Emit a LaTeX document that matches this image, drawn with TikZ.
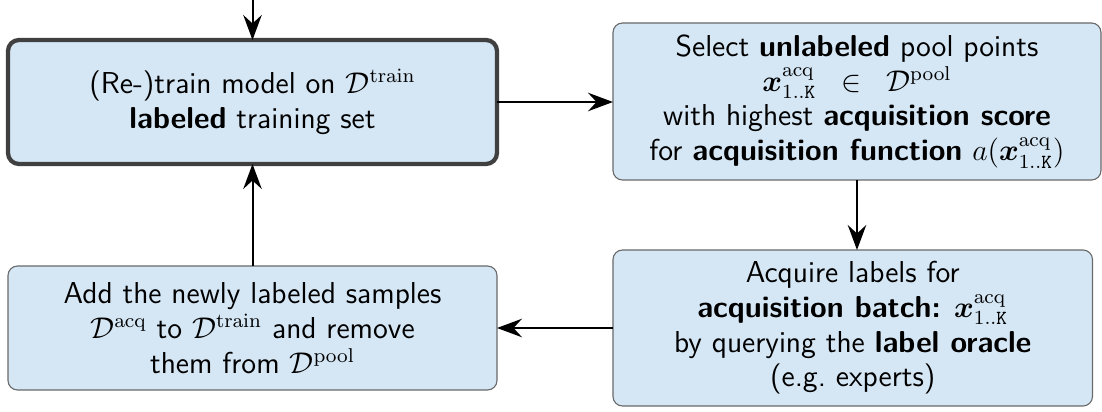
\documentclass[tikz,border=0pt]{standalone}
\usepackage{amsmath}
\usetikzlibrary{arrows.meta}

\definecolor{boxfill}{RGB}{213,231,245}
\definecolor{boxedge}{RGB}{105,105,105}
\definecolor{mainedge}{RGB}{64,64,64}

\newcommand{\xacq}{\boldsymbol{x}^{\mathrm{acq}}_{1..\mathtt{K}}}
\newcommand{\Dset}[1]{\mathcal{D}^{\mathrm{#1}}}

\tikzset{
  stepbox/.style={draw=boxedge, line width=0.45pt, fill=boxfill,
    rounded corners=3.8pt, inner sep=0pt, outer sep=0pt, align=center,
    font=\sffamily\fontsize{12.1}{13.9}\selectfont},
  mainbox/.style={stepbox, draw=mainedge, line width=1.7pt, rounded corners=4.4pt},
  flow/.style={-{Stealth[length=10pt,width=7.4pt,inset=3.4pt]}, line width=0.8pt, black},
}

\begin{document}
\begin{tikzpicture}[x=0.4pt, y=-0.4pt]
  \useasboundingbox (0,0) rectangle (1102,412);

  % the four stages of the loop
  \node[mainbox, minimum width=195.6pt, minimum height=49.6pt] (train) at (252.5,102)
    {(Re-)train model on $\Dset{train}$\\ \textbf{labeled} training set};
  \node[stepbox, minimum width=195.2pt, minimum height=62.8pt] (select) at (857,101.5)
    {Select \textbf{unlabeled} pool points\\
     $\xacq$ \hspace{6pt}$\in$\hspace{6pt} $\Dset{pool}$\\
     with highest \textbf{acquisition score}\\
     for \textbf{acquisition function} $a(\xacq)$};
  \node[stepbox, minimum width=191.8pt, minimum height=62.4pt] (acquire) at (852.75,328)
    {Acquire labels for\\
     \textbf{acquisition batch:} $\xacq$\\
     by querying the \textbf{label oracle}\\
     (e.g.\ experts)};
  \node[stepbox, minimum width=195.6pt, minimum height=49.6pt] (add) at (252.5,328)
    {Add the newly labeled samples\\
     $\Dset{acq}$ to $\Dset{train}$ and remove\\
     them from $\Dset{pool}$};

  % entry point and loop connectors
  \coordinate (start) at (252.5,0);
  \draw[flow] (start) -- (train.north);
  \draw[flow] (train.east) -- (train.east -| select.west);
  \draw[flow] (select.south) -- (select.south |- acquire.north);
  \draw[flow] (acquire.west) -- (acquire.west -| add.east);
  \draw[flow] (add.north) -- (train.south);
\end{tikzpicture}
\end{document}
